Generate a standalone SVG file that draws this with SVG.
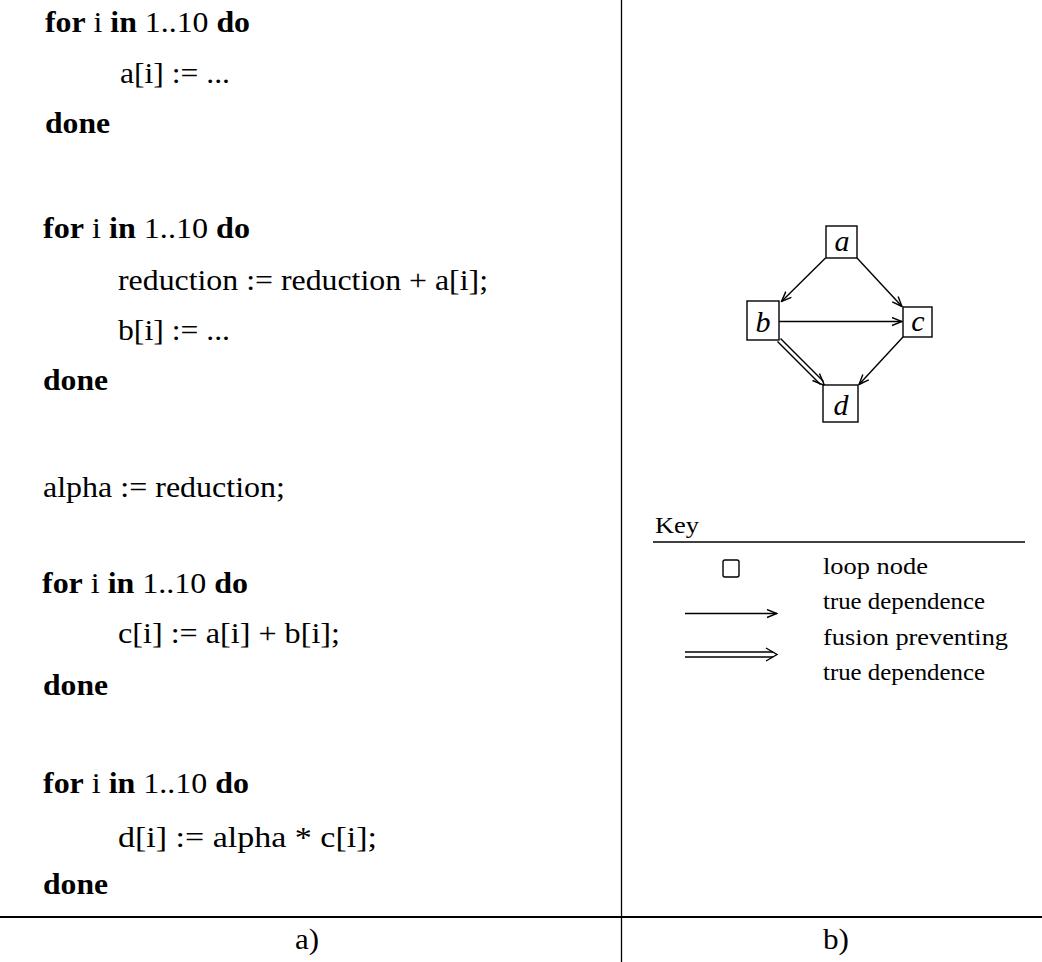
<svg xmlns="http://www.w3.org/2000/svg" width="1042" height="962" viewBox="0 0 1042 962">
<style>
  .code { font-family: "Liberation Serif", "Times New Roman", serif; font-size: 30px; fill: #000; }
  .kw { font-weight: bold; }
  .key { font-family: "Liberation Serif", "Times New Roman", serif; font-size: 24px; fill: #000; }
  .lbl { font-family: "Liberation Serif", "Times New Roman", serif; font-size: 30px; font-style: italic; fill: #000; text-anchor: middle; }
  .cap { font-family: "Liberation Serif", "Times New Roman", serif; font-size: 29px; fill: #000; text-anchor: middle; }
  .box { fill: #fff; stroke: #000; stroke-width: 1.4; }
  .edge { fill: none; stroke: #000; stroke-width: 1.4; }
  .rule { stroke: #000; fill: none; }
</style>
<defs>
  <marker id="arr" markerUnits="userSpaceOnUse" markerWidth="12" markerHeight="10" refX="11" refY="4.5" orient="auto">
    <path d="M1,0.5 L11,4.5 L1,8.5" fill="none" stroke="#000" stroke-width="1.4"/>
  </marker>
</defs>
<rect width="1042" height="962" fill="#fff"/>

<!-- frame rules -->
<g id="frame">
  <line class="rule" x1="621.5" y1="0" x2="621.5" y2="962" stroke-width="1.3"/>
  <line class="rule" x1="0" y1="917" x2="1042" y2="917" stroke-width="2"/>
  <text class="cap" x="307" y="949" textLength="24" lengthAdjust="spacingAndGlyphs">a)</text>
  <text class="cap" x="836" y="949" textLength="26" lengthAdjust="spacingAndGlyphs">b)</text>
</g>

<!-- code listing -->
<g id="code">
  <text class="code" x="45" y="32" textLength="205" lengthAdjust="spacingAndGlyphs"><tspan class="kw">for</tspan> i <tspan class="kw">in</tspan> 1..10 <tspan class="kw">do</tspan></text>
  <text class="code" x="120" y="83" textLength="110" lengthAdjust="spacingAndGlyphs">a[i] := ...</text>
  <text class="code kw" x="45" y="133" textLength="65" lengthAdjust="spacingAndGlyphs">done</text>

  <text class="code" x="43" y="238" textLength="207" lengthAdjust="spacingAndGlyphs"><tspan class="kw">for</tspan> i <tspan class="kw">in</tspan> 1..10 <tspan class="kw">do</tspan></text>
  <text class="code" x="118" y="290" textLength="370" lengthAdjust="spacingAndGlyphs">reduction := reduction + a[i];</text>
  <text class="code" x="118" y="340" textLength="112" lengthAdjust="spacingAndGlyphs">b[i] := ...</text>
  <text class="code kw" x="43" y="390" textLength="65" lengthAdjust="spacingAndGlyphs">done</text>

  <text class="code" x="43" y="497" textLength="242" lengthAdjust="spacingAndGlyphs">alpha := reduction;</text>

  <text class="code" x="42" y="593" textLength="206" lengthAdjust="spacingAndGlyphs"><tspan class="kw">for</tspan> i <tspan class="kw">in</tspan> 1..10 <tspan class="kw">do</tspan></text>
  <text class="code" x="118" y="643" textLength="222" lengthAdjust="spacingAndGlyphs">c[i] := a[i] + b[i];</text>
  <text class="code kw" x="43" y="695" textLength="65" lengthAdjust="spacingAndGlyphs">done</text>

  <text class="code" x="43" y="793" textLength="206" lengthAdjust="spacingAndGlyphs"><tspan class="kw">for</tspan> i <tspan class="kw">in</tspan> 1..10 <tspan class="kw">do</tspan></text>
  <text class="code" x="118" y="847" textLength="259" lengthAdjust="spacingAndGlyphs">d[i] := alpha * c[i];</text>
  <text class="code kw" x="43" y="894" textLength="65" lengthAdjust="spacingAndGlyphs">done</text>
</g>

<!-- connectors -->
<g id="connectors">
  <line class="edge" x1="825.5" y1="258" x2="781.5" y2="301.5" marker-end="url(#arr)"/>
  <line class="edge" x1="857" y1="258" x2="902" y2="306.5" marker-end="url(#arr)"/>
  <line class="edge" x1="779" y1="321.5" x2="902" y2="321.5" marker-end="url(#arr)"/>
  <line class="edge" x1="903" y1="337" x2="859" y2="384.5" marker-end="url(#arr)"/>
  <!-- fusion preventing double edge b -> d -->
  <line class="edge" x1="780.5" y1="338.5" x2="823.5" y2="381.5"/>
  <line class="edge" x1="777.5" y1="341.5" x2="820.5" y2="384.5"/>
  <path class="edge" d="M812.5,380.5 L824.5,385.5 L819.5,373.5"/>
</g>

<!-- nodes -->
<g id="node-a">
  <rect class="box" x="826" y="226" width="31" height="32"/>
  <text class="lbl" x="842" y="251">a</text>
</g>
<g id="node-b">
  <rect class="box" x="747" y="301" width="32" height="39"/>
  <text class="lbl" x="763" y="332">b</text>
</g>
<g id="node-c">
  <rect class="box" x="903" y="307" width="29" height="30"/>
  <text class="lbl" x="918" y="331">c</text>
</g>
<g id="node-d">
  <rect class="box" x="823" y="385" width="35" height="37"/>
  <text class="lbl" x="841" y="415">d</text>
</g>

<!-- key -->
<g id="key">
  <text class="key" x="655" y="533" textLength="44" lengthAdjust="spacingAndGlyphs">Key</text>
  <line class="rule" x1="653" y1="542" x2="1025" y2="542" stroke-width="1.6"/>
  <rect x="723" y="560" width="16" height="17" rx="2" fill="none" stroke="#000" stroke-width="1.4"/>
  <text class="key" x="823" y="574" textLength="105" lengthAdjust="spacingAndGlyphs">loop node</text>
  <line class="edge" x1="685" y1="613.5" x2="777" y2="613.5" marker-end="url(#arr)"/>
  <text class="key" x="823" y="609" textLength="162" lengthAdjust="spacingAndGlyphs">true dependence</text>
  <line class="edge" x1="685" y1="652" x2="773" y2="652"/>
  <line class="edge" x1="685" y1="657" x2="773" y2="657"/>
  <path class="edge" d="M766,648 L777,654.5 L766,661"/>
  <text class="key" x="823" y="645" textLength="185" lengthAdjust="spacingAndGlyphs">fusion preventing</text>
  <text class="key" x="823" y="680" textLength="162" lengthAdjust="spacingAndGlyphs">true dependence</text>
</g>
</svg>
